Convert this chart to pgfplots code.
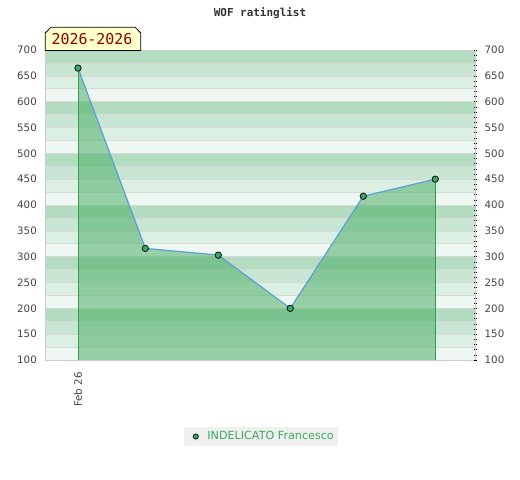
\documentclass[border=0pt]{standalone}
\usepackage{fontspec}
\setmainfont{DejaVu Sans}
\newfontfamily\monofont{DejaVu Sans Mono}
\usepackage{pgfplots}
\pgfplotsset{compat=1.18}
\definecolor{sA}{HTML}{EEF7F1}
\definecolor{sB}{HTML}{DCEFE3}
\definecolor{sC}{HTML}{C8E6D3}
\definecolor{sD}{HTML}{B3DCC0}
\definecolor{sepgray}{HTML}{D6DAD7}
\definecolor{areagreen}{HTML}{42AB5F}
\definecolor{edgegreen}{HTML}{2E9E4F}
\definecolor{lineblue}{HTML}{5AA0D8}
\definecolor{markgreen}{HTML}{3AA860}
\definecolor{legendgreen}{HTML}{3AAA5E}
\definecolor{legendgray}{HTML}{F0F0F0}
\definecolor{tickgray}{HTML}{444444}
\definecolor{boxyellow}{HTML}{FFFFCC}
\definecolor{boxred}{HTML}{8B0000}
\begin{document}
\begin{tikzpicture}
\path[use as bounding box, fill=white] (0,0) rectangle (520bp,480bp);
% background stripes
\foreach \i in {0,...,5} {
  \pgfmathsetmacro\yb{120+51.66667*\i}
  \fill[sA] (45bp,{\yb bp}) rectangle (475bp,{\yb bp+12.91667bp});
  \fill[sB] (45bp,{\yb bp+12.91667bp}) rectangle (475bp,{\yb bp+25.83333bp});
  \fill[sC] (45bp,{\yb bp+25.83333bp}) rectangle (475bp,{\yb bp+38.75bp});
  \fill[sD] (45bp,{\yb bp+38.75bp}) rectangle (475bp,{\yb bp+51.66667bp});
}
\foreach \j in {1,...,23} {
  \draw[sepgray, line width=0.5bp] (45bp,{120bp+12.91667bp*\j}) -- (475bp,{120bp+12.91667bp*\j});
}
\begin{axis}[
  at={(45bp,120bp)}, anchor=south west,
  scale only axis, width=430bp, height=310bp,
  xmin=-33, xmax=397, ymin=100, ymax=700,
  axis line style={draw=gray!40},
  ytick={100,150,...,700},
  /pgf/number format/assume math mode=true,
  yticklabel style={font=\fontsize{10.3}{12}\selectfont, text=tickgray, inner sep=0pt, xshift=-8bp},
  xtick={0}, xticklabels={Feb 26},
  xticklabel style={rotate=90, anchor=east, font=\fontsize{10.3}{12}\selectfont, text=tickgray, inner sep=0pt, xshift=-12bp},
  major tick length=0pt,
  legend style={at={(0.5023,-0.2468)}, anchor=center, fill=legendgray, draw=none,
    font=\fontsize{11.2}{13}\selectfont, text=legendgreen, inner xsep=2bp, inner ysep=2.5bp},
]
\addplot[draw=none, fill=areagreen, fill opacity=0.5, forget plot] coordinates {
  (0,665) (67.3,316) (140.3,303) (212.3,200) (285.3,417) (357.3,450)
} \closedcycle;
\addplot[draw=edgegreen, line width=1bp, forget plot] coordinates {(0,100) (0,665)};
\addplot[draw=edgegreen, line width=1bp, forget plot] coordinates {(357.3,100) (357.3,450)};
\addplot[draw=lineblue, line width=1.2bp, mark=*, mark size=3.2bp,
  mark options={fill=markgreen, draw=black, line width=0.7bp},
  legend image code/.code={\path (-9bp,0) (9bp,0);\filldraw[fill=markgreen, draw=black, line width=0.7bp] (0,0) circle (2.6bp);}]
  coordinates {
  (0,665) (67.3,316) (140.3,303) (212.3,200) (285.3,417) (357.3,450)
};
\addlegendentry{INDELICATO Francesco}
\end{axis}
\begin{axis}[
  at={(45bp,120bp)}, anchor=south west,
  scale only axis, width=430bp, height=310bp,
  xmin=-33, xmax=397, ymin=100, ymax=700,
  axis x line=none, axis y line*=right,
  axis line style={draw=gray!40},
  ytick={100,150,...,700}, minor ytick={100,110,...,700},
  /pgf/number format/assume math mode=true,
  yticklabel style={font=\fontsize{10.3}{12}\selectfont, text=tickgray, inner sep=0pt, xshift=8bp, anchor=west},
  major tick length=3bp, minor tick length=3bp,
  every tick/.style={black, line width=0.5bp},
  tick align=center,
]
\addplot[draw=none, forget plot] coordinates {(0,100)};
\end{axis}
% title
\node[font=\monofont\bfseries\fontsize{11}{12}\selectfont, text=black!80] at (260bp,467bp) {WOF ratinglist};
% year box
\filldraw[fill=boxyellow, draw=black, line width=0.8bp]
  (45.3bp,429.5bp) -- (45.3bp,447bp) -- (50.8bp,452.7bp) -- (135.2bp,452.7bp) -- (140.7bp,447bp) -- (140.7bp,429.5bp) -- cycle;
\node[font=\monofont\fontsize{15}{16}\selectfont, text=boxred, inner sep=0pt] at (92bp,440.5bp) {2026-2026};
\end{tikzpicture}
\end{document}
